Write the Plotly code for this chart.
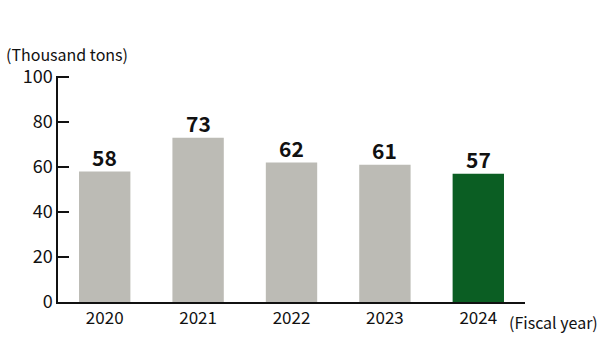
import plotly.graph_objects as go

years = ["2020", "2021", "2022", "2023", "2024"]
values = [58, 73, 62, 61, 57]
bar_colors = ["#bcbbb5", "#bcbbb5", "#bcbbb5", "#bcbbb5", "#0b5e23"]
y_ticks = [0, 20, 40, 60, 80, 100]

FONT = "Noto Sans CJK JP"
TXT = "#111111"

fig = go.Figure(go.Bar(
    x=years, y=values,
    marker=dict(color=bar_colors, line=dict(width=0)),
    width=0.55,
    hoverinfo="skip",
))

for i, v in enumerate(values):
    fig.add_annotation(
        x=i, y=v, text=str(v), showarrow=False,
        yanchor="bottom", yshift=-2,
        font=dict(family=FONT, size=21, color=TXT, weight="bold"),
    )

PLOT_H = 362 - 76 - 60

fig.update_layout(
    width=600, height=362,
    margin=dict(l=58, r=75, t=76, b=60, autoexpand=False),
    plot_bgcolor="white", paper_bgcolor="white",
    font=dict(family=FONT, size=18, color=TXT),
    showlegend=False,
)
fig.update_xaxes(
    type="category", range=[-0.5, 4.5], automargin=False,
    showline=True, linecolor=TXT, linewidth=1.5,
    ticks="", showgrid=False,
    tickfont=dict(family=FONT, size=17, color=TXT),
)
fig.update_yaxes(
    range=[0, 100.45], tickvals=y_ticks, automargin=False,
    showline=True, linecolor=TXT, linewidth=1.5,
    ticks="inside", ticklen=11, tickwidth=1.5, tickcolor=TXT,
    showgrid=False, zeroline=False,
    tickfont=dict(family=FONT, size=18, color=TXT),
)
fig.add_annotation(
    text="(Thousand tons)", xref="paper", yref="paper",
    x=-53/467, y=1 + 22/PLOT_H, xanchor="left", yanchor="middle",
    showarrow=False, borderpad=0,
    font=dict(family=FONT, size=16, color=TXT),
)
fig.add_annotation(
    text="(Fiscal year)", xref="paper", yref="paper",
    x=(508 - 58)/467, y=-20/PLOT_H, xanchor="left", yanchor="middle",
    showarrow=False, borderpad=0,
    font=dict(family=FONT, size=16, color=TXT),
)

fig.write_html(
    "out.html",
    config={"displayModeBar": False},
    post_script="document.body.style.margin='0';document.body.style.padding='0';",
)
